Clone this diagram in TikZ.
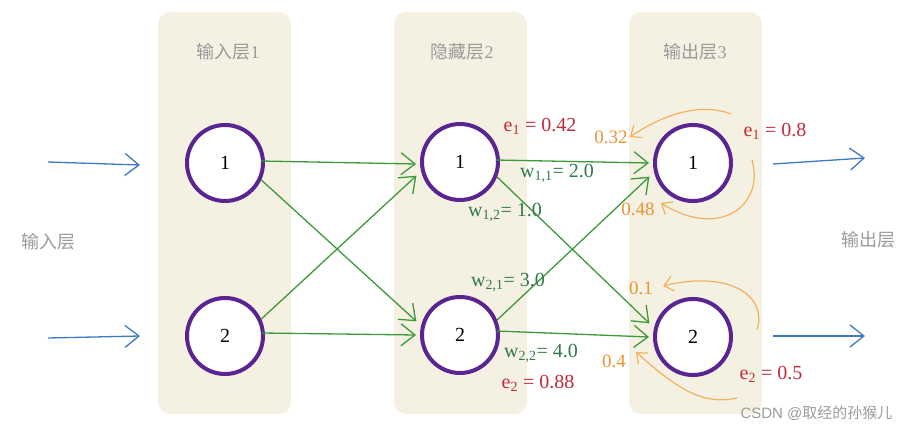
\documentclass[tikz,border=0pt]{standalone}
\usepackage{fontspec}
\setmainfont{Liberation Serif}
\newfontfamily\cjk{Noto Sans CJK SC}
\usetikzlibrary{arrows.meta}
\definecolor{beige}{HTML}{F5F1E2}
\definecolor{purp}{HTML}{5A2590}
\definecolor{grn}{HTML}{3C9A3C}
\definecolor{wgrn}{HTML}{2F7A48}
\definecolor{rd}{HTML}{C02A3A}
\definecolor{org}{HTML}{F2B060}
\definecolor{orgt}{HTML}{EA9530}
\definecolor{blu}{HTML}{3C7AC8}
\definecolor{gtxt}{HTML}{9A9A9A}
\tikzset{
  layerbox/.style={fill=beige, rounded corners=12pt, draw=none},
  neuron/.style={circle, draw=purp, line width=4pt, fill=white, minimum size=76pt, inner sep=0pt, font=\fontsize{20}{20}\selectfont},
  title/.style={text=gtxt, font=\cjk\fontsize{18}{18}\selectfont},
  conn/.style={draw=grn, line width=1.3pt, -{Straight Barb[length=14pt,width=22pt,line width=1.3pt]}},
  inarr/.style={draw=blu, line width=1.3pt, -{Straight Barb[length=14pt,width=22pt,line width=1.3pt]}},
  fb/.style={draw=org, line width=1.2pt, -{Straight Barb[length=9pt,width=15pt,line width=1.2pt]}},
  wlab/.style={text=wgrn, font=\fontsize{20}{20}\selectfont, inner sep=0pt},
  elab/.style={text=rd, font=\fontsize{20}{20}\selectfont, inner sep=0pt},
  olab/.style={text=orgt, font=\fontsize{19}{19}\selectfont, inner sep=0pt}
}
\begin{document}
\begin{tikzpicture}[x=1pt,y=-1pt]
\useasboundingbox (0,0) rectangle (908,433);
% layer boxes
\fill[layerbox] (158,12) rectangle (291,414);
\fill[layerbox] (394,12) rectangle (527,414);
\fill[layerbox] (629,12) rectangle (762,414);
% titles
\node[title] (t1) at (228,52) {输入层\fontspec{Liberation Serif}1};
\node[title] (t2) at (462,52) {隐藏层\fontspec{Liberation Serif}2};
\node[title] (t3) at (695,52) {输出层\fontspec{Liberation Serif}3};
\node[title] (lin) at (48,242) {输入层};
\node[title] (lout) at (868,240) {输出层};
% neurons
\node[neuron] (a1) at (225,163) {1};
\node[neuron] (a2) at (225,336) {2};
\node[neuron] (b1) at (460,162) {1};
\node[neuron] (b2) at (460,335) {2};
\node[neuron] (c1) at (693,163) {1};
\node[neuron] (c2) at (693,337) {2};
% input / output arrows
\coordinate (i1) at (48,162);
\coordinate (i2) at (48,338);
\coordinate (o1) at (865,158);
\coordinate (o2) at (865,336);
\draw[inarr] (i1) -- ([xshift=-45pt,yshift=-2pt]a1.west);
\draw[inarr] (i2) -- ([xshift=-45pt]a2.west);
\draw[inarr] ([xshift=40pt,yshift=-1pt]c1.east) -- (o1);
\draw[inarr] ([xshift=40pt,yshift=1pt]c2.east) -- (o2);
% connections layer 1 -> 2
\draw[conn] ([xshift=-4pt,yshift=2pt]a1.east) -- ([xshift=-4pt,yshift=-2pt]b1.west);
\draw[conn] (a1.-25) -- ([xshift=-6pt]b2.160);
\draw[conn] (a2.25) -- ([xshift=-6pt]b1.-160);
\draw[conn] ([xshift=-3pt,yshift=3pt]a2.east) -- ([xshift=-4pt]b2.west);
% connections layer 2 -> 3
\draw[conn] ([xshift=-4pt,yshift=2pt]b1.east) -- ([xshift=-4pt]c1.west);
\draw[conn] (b1.-22) -- ([xshift=-6pt]c2.160);
\draw[conn] (b2.22) -- ([xshift=-6pt]c1.-160);
\draw[conn] ([xshift=-3pt,yshift=4pt]b2.east) -- ([xshift=-4pt]c2.west);
% weight labels
\node[wlab] (w11) at (557,173) {w\textsubscript{1,1}= 2.0};
\node[wlab] (w12) at (505,212) {w\textsubscript{1,2}= 1.0};
\node[wlab] (w21) at (508,282) {w\textsubscript{2,1}= 3.0};
\node[wlab] (w22) at (541,353) {w\textsubscript{2,2}= 4.0};
% error labels
\node[elab] (e1h) at (540,126) {e\textsubscript{1} = 0.42};
\node[elab] (e2h) at (538,383) {e\textsubscript{2} = 0.88};
\node[elab] (e1o) at (775,131) {e\textsubscript{1} = 0.8};
\node[elab] (e2o) at (771,374) {e\textsubscript{2} = 0.5};
% orange back-propagation labels
\node[olab] (p32) at (611,137) {0.32};
\node[olab] (p48) at (638,209) {0.48};
\node[olab] (p1) at (641,288) {0.1};
\node[olab] (p4) at (614,361) {0.4};
% orange curved arrows
\coordinate (s1) at (731,114);
\coordinate (s2) at (752,160);
\coordinate (s3) at (757,330);
\coordinate (s4) at (737,398);
\draw[fb] (s1) .. controls (705,104) and (670,110) .. ([xshift=2pt]p32.east);
\draw[fb] (s2) .. controls (765,205) and (720,240) .. ([xshift=6pt,yshift=6pt]p48.east);
\draw[fb] (s3) .. controls (768,295) and (728,270) .. ([xshift=10pt,yshift=2pt]p1.east);
\draw[fb] (s4) .. controls (705,405) and (680,392) .. ([xshift=10pt,yshift=9pt]p4.east);
% watermark
\node[text=gtxt, font=\fontsize{15}{15}\selectfont, anchor=east] (wm) at (896,413) {\fontspec{Liberation Sans}CSDN @\cjk 取经的孙猴儿};
\end{tikzpicture}
\end{document}
